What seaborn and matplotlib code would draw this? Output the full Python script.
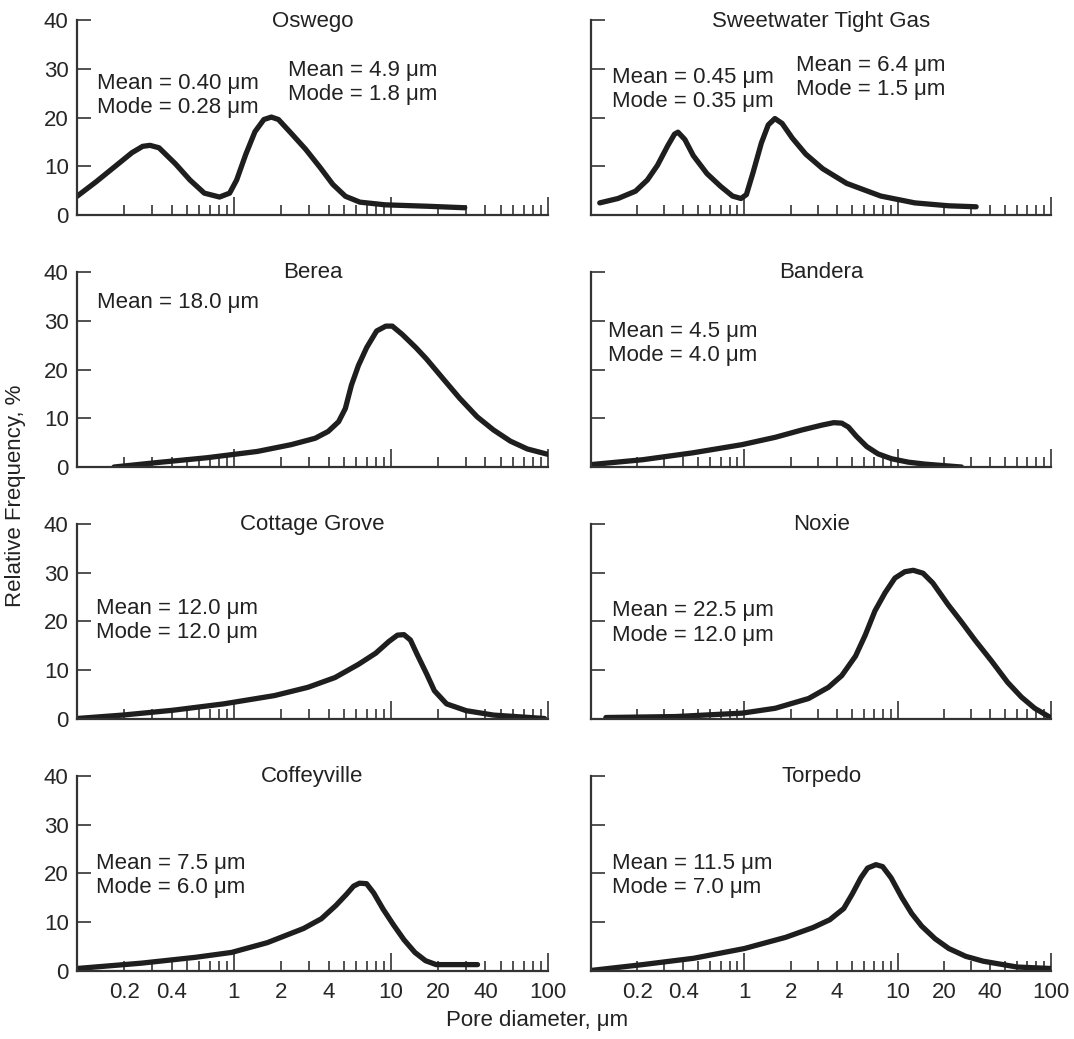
import numpy as np
import pandas as pd
import matplotlib
matplotlib.use('Agg')
import matplotlib.pyplot as plt
import matplotlib.ticker as mticker
import seaborn as sns

# pore size distributions (diameter in um, relative frequency in %)
oswego_x = [0.1, 0.132, 0.172, 0.224, 0.262, 0.292, 0.333, 0.424, 0.524, 0.647, 0.809, 0.938, 1.04,
            1.19, 1.36, 1.55, 1.73, 1.92, 2.31, 2.86, 3.53, 4.26, 5.13, 6.34, 9.19, 17.4, 29.5]
oswego_y = [3.85, 6.8, 9.8, 12.8, 14.1, 14.3, 13.8, 10.5, 7.2, 4.5, 3.7, 4.5, 7.2,
            12.5, 17.1, 19.6, 20.1, 19.6, 16.8, 13.5, 9.8, 6.3, 3.85, 2.65, 2.1, 1.8, 1.5]

sweet_x = [0.114, 0.150, 0.195, 0.233, 0.271, 0.316, 0.350, 0.369, 0.409, 0.464, 0.570, 0.699, 0.836,
           0.95, 1.03, 1.14, 1.29, 1.43, 1.58, 1.76, 2.05, 2.51, 3.24, 4.64, 7.74, 12.9, 21.5, 32.4]
sweet_y = [2.5, 3.4, 4.9, 7.2, 10.2, 14.2, 16.6, 17.0, 15.5, 12.2, 8.5, 5.9, 3.9,
           3.4, 4.2, 8.8, 14.8, 18.5, 19.8, 18.8, 15.8, 12.5, 9.5, 6.5, 3.9, 2.5, 1.9, 1.7]

berea_x = [0.172, 0.32, 0.67, 1.41, 2.32, 3.29, 3.98, 4.64, 5.12, 5.6, 6.2, 7.0, 8.1, 9.27, 10.2,
           11.8, 14.4, 16.8, 21.5, 27.4, 35.4, 45, 57.7, 74, 100]
berea_y = [0.0, 0.9, 1.9, 3.2, 4.6, 5.9, 7.3, 9.3, 12.0, 16.8, 20.8, 24.5, 27.9, 28.9, 28.9,
           27.2, 24.5, 22.2, 18.1, 14.1, 10.3, 7.6, 5.3, 3.7, 2.6]

bandera_x = [0.1, 0.217, 0.458, 0.967, 1.59, 2.37, 3.2, 3.82, 4.31, 4.76, 5.37, 6.27, 7.43, 9.1,
             11.7, 15.0, 26]
bandera_y = [0.5, 1.5, 2.9, 4.6, 6.1, 7.6, 8.6, 9.1, 9.0, 8.2, 6.3, 4.2, 2.7, 1.7,
             1.0, 0.6, 0.0]

cottage_x = [0.1, 0.195, 0.41, 0.86, 1.81, 2.96, 4.4, 6.2, 8.0, 9.7, 11.0, 12.1, 13.3, 14.7, 16.9,
             18.9, 22.6, 30.2, 45, 95]
cottage_y = [0.1, 0.8, 1.8, 3.1, 4.8, 6.5, 8.5, 11.2, 13.5, 15.9, 17.2, 17.3, 16.2, 13.2, 9.2,
             5.8, 3.1, 1.7, 0.8, 0.1]

noxie_x = [0.125, 0.357, 0.967, 1.59, 2.62, 3.53, 4.31, 5.3, 6.13, 7.1, 8.26, 9.57, 11.1, 12.6,
           14.6, 16.9, 21.2, 26, 31.8, 40.8, 52, 63.9, 78, 100]
noxie_y = [0.3, 0.5, 1.2, 2.2, 4.2, 6.5, 8.9, 12.9, 17.2, 22.2, 25.9, 28.9, 30.2, 30.5,
           29.9, 27.9, 23.5, 19.9, 16.2, 11.9, 7.5, 4.5, 2.2, 0.2]

coffey_x = [0.1, 0.258, 0.57, 0.965, 1.63, 2.77, 3.6, 4.45, 5.2, 5.78, 6.3, 6.99, 7.76, 8.9, 10.4,
            12.1, 14.2, 16.6, 19.4, 35.6]
coffey_y = [0.5, 1.6, 2.8, 3.8, 5.8, 8.7, 10.7, 13.4, 15.7, 17.4, 18.0, 17.9, 16.0, 12.7, 9.4,
            6.4, 3.8, 2.1, 1.3, 1.3]

torpedo_x = [0.1, 0.217, 0.467, 1.0, 1.86, 2.8, 3.6, 4.44, 5.05, 5.74, 6.35, 7.2, 7.96, 9.04, 10.6,
             12.3, 14.3, 17.5, 21.5, 27.7, 36, 60, 100]
torpedo_y = [0.1, 1.3, 2.6, 4.6, 6.9, 8.9, 10.5, 12.8, 15.8, 19.1, 21.1, 21.8, 21.4, 19.1, 15.1,
             11.8, 9.2, 6.6, 4.6, 3.0, 2.0, 0.8, 0.5]

names = ['Oswego', 'Sweetwater Tight Gas', 'Berea', 'Bandera',
         'Cottage Grove', 'Noxie', 'Coffeyville', 'Torpedo']
curves = [(oswego_x, oswego_y), (sweet_x, sweet_y), (berea_x, berea_y), (bandera_x, bandera_y),
          (cottage_x, cottage_y), (noxie_x, noxie_y), (coffey_x, coffey_y), (torpedo_x, torpedo_y)]

# (text, x frac, y frac) per panel
notes = [
    [('Mean = 0.40 \u03bcm\nMode = 0.28 \u03bcm', 0.042, 0.615), ('Mean = 4.9 \u03bcm\nMode = 1.8 \u03bcm', 0.447, 0.68)],
    [('Mean = 0.45 \u03bcm\nMode = 0.35 \u03bcm', 0.045, 0.644), ('Mean = 6.4 \u03bcm\nMode = 1.5 \u03bcm', 0.446, 0.705)],
    [('Mean = 18.0 \u03bcm', 0.042, 0.845)],
    [('Mean = 4.5 \u03bcm\nMode = 4.0 \u03bcm', 0.037, 0.635)],
    [('Mean = 12.0 \u03bcm\nMode = 12.0 \u03bcm', 0.040, 0.503)],
    [('Mean = 22.5 \u03bcm\nMode = 12.0 \u03bcm', 0.045, 0.492)],
    [('Mean = 7.5 \u03bcm\nMode = 6.0 \u03bcm', 0.040, 0.49)],
    [('Mean = 11.5 \u03bcm\nMode = 7.0 \u03bcm', 0.045, 0.49)],
]

xtick_vals = [0.2, 0.4, 1, 2, 4, 10, 20, 40, 100]
xtick_text = ['0.2', '0.4', '1', '2', '4', '10', '20', '40', '100']
minor_vals = [0.3, 0.5, 0.6, 0.7, 0.8, 0.9, 3, 5, 6, 7, 8, 9, 30, 50, 60, 70, 80, 90]
ytick_vals = [0, 10, 20, 30, 40]

sns.set_theme(style='white')
plt.rcParams['font.family'] = ['Liberation Sans', 'DejaVu Sans']
plt.rcParams['text.color'] = '#222222'

fig = plt.figure(figsize=(10.74, 10.39), dpi=100)

col_left = [0.0717, 0.5503]
col_w = [0.4385, 0.4285]
row_bottom = [0.793, 0.5505, 0.308, 0.0655]
row_h = 0.1877

for i, name in enumerate(names):
    r, c = divmod(i, 2)
    ax = fig.add_axes([col_left[c], row_bottom[r], col_w[c], row_h])
    xs, ys = curves[i]
    df = pd.DataFrame({'d': xs, 'f': ys})
    sns.lineplot(data=df, x='d', y='f', ax=ax, color='#1e1e1e', lw=3.8, estimator=None,
                 solid_joinstyle='round', solid_capstyle='round')
    ax.set_xscale('log')
    ax.set_xlim(0.1, 100)
    ax.set_ylim(0, 40)
    sns.despine(ax=ax)
    for s in ['left', 'bottom']:
        ax.spines[s].set_color('#333333')
        ax.spines[s].set_linewidth(1.6)

    ax.set_xticks(xtick_vals, xtick_text if r == 3 else [])
    ax.xaxis.set_minor_locator(mticker.FixedLocator(minor_vals))
    ax.xaxis.set_minor_formatter(mticker.NullFormatter())
    ax.tick_params(axis='x', which='both', direction='in', length=7, width=1.2,
                   color='#333333', labelsize=16, pad=8, bottom=True)
    for t, v in zip(ax.xaxis.get_major_ticks(), xtick_vals):
        if v in (1, 10, 100):
            t.tick1line.set_markersize(13)

    ax.set_yticks(ytick_vals)
    ax.tick_params(axis='y', direction='in', length=10, width=1.2, color='#333333',
                   labelsize=16, pad=6, left=True, labelleft=(c == 0))
    ax.set_xlabel('')
    ax.set_ylabel('')

    ax.text(0.5, 0.995, name, transform=ax.transAxes, ha='center', va='center', fontsize=16)
    for txt, fx, fy in notes[i]:
        ax.text(fx, fy, txt, transform=ax.transAxes, ha='left', va='center',
                fontsize=16, linespacing=1.2)

fig.text(0.5, 0.018, 'Pore diameter, \u03bcm', ha='center', va='center', fontsize=16)
fig.text(0.014, 0.523, 'Relative Frequency, %', ha='center', va='center',
         rotation=90, fontsize=16)

fig.savefig('out.png', dpi=100)
